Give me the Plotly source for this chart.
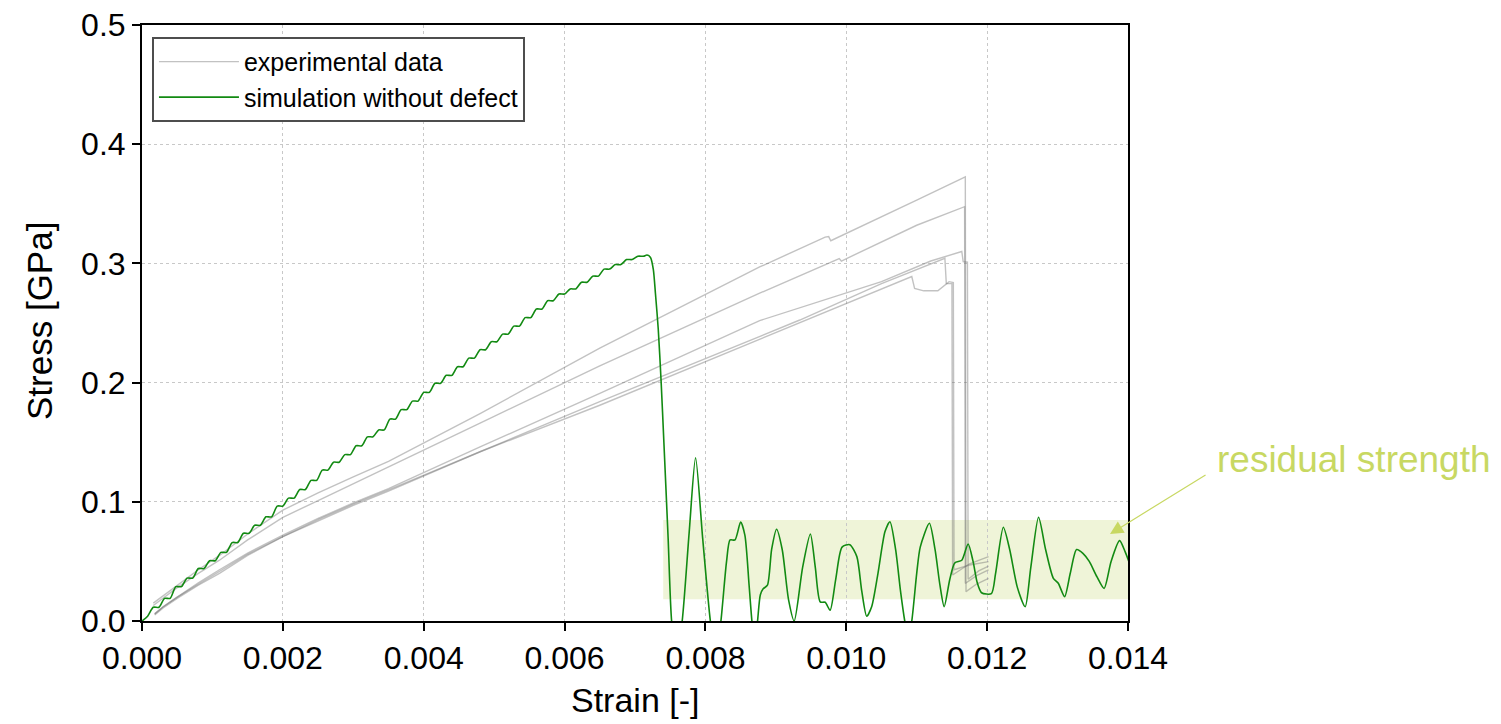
import plotly.graph_objects as go

# ---------------- data ----------------
# simulation without defect: rising part (rippled)
sim_strain_rise = [0, 0.00008, 0.00016, 0.00024, 0.00032, 0.0004, 0.00048, 0.00056, 0.00064, 0.00072,
                   0.0008, 0.00088, 0.00096, 0.00104, 0.00112, 0.0012, 0.00128, 0.00136, 0.00144, 0.00152,
                   0.0016, 0.00168, 0.00176, 0.00184, 0.00192, 0.002, 0.00208, 0.00216, 0.00224, 0.00232,
                   0.0024, 0.00248, 0.00256, 0.00264, 0.00272, 0.0028, 0.00288, 0.00296, 0.00304, 0.00312,
                   0.0032, 0.00328, 0.00336, 0.00344, 0.00352, 0.0036, 0.00368, 0.00376, 0.00384, 0.00392,
                   0.004, 0.00408, 0.00416, 0.00424, 0.00432, 0.0044, 0.00448, 0.00456, 0.00464, 0.00472,
                   0.0048, 0.00488, 0.00496, 0.00504, 0.00512, 0.0052, 0.00528, 0.00536, 0.00544, 0.00552,
                   0.0056, 0.00568, 0.00576, 0.00584, 0.00592, 0.006, 0.00608, 0.00616, 0.00624, 0.00632,
                   0.0064, 0.00648, 0.00656, 0.00664, 0.00672, 0.0068, 0.00688, 0.00696, 0.00704, 0.00712]
sim_stress_rise = [0.0, 0.004, 0.0115, 0.0115, 0.019, 0.019, 0.0288, 0.0288, 0.036, 0.036,
                   0.044, 0.044, 0.0506, 0.0506, 0.0576, 0.0576, 0.0658, 0.0658, 0.0736, 0.0736,
                   0.0803, 0.0803, 0.0874, 0.0874, 0.0964, 0.0964, 0.1031, 0.1031, 0.1103, 0.1103,
                   0.118, 0.118, 0.1266, 0.1266, 0.1332, 0.1332, 0.1396, 0.1396, 0.147, 0.147,
                   0.1545, 0.1545, 0.1603, 0.1603, 0.1694, 0.1694, 0.1773, 0.1773, 0.1845, 0.1845,
                   0.1918, 0.1918, 0.1994, 0.1994, 0.2061, 0.2061, 0.2133, 0.2133, 0.2205, 0.2205,
                   0.2276, 0.2276, 0.2343, 0.2343, 0.2407, 0.2407, 0.2474, 0.2474, 0.2545, 0.2545,
                   0.2617, 0.2617, 0.2687, 0.2687, 0.2743, 0.2743, 0.2786, 0.2786, 0.2842, 0.2842,
                   0.2893, 0.2893, 0.2952, 0.2952, 0.299, 0.299, 0.3032, 0.3032, 0.306, 0.306]

# simulation: failure and residual oscillations
sim_strain_post = [0.00717, 0.00722, 0.00726, 0.00729, 0.00733, 0.00737, 0.00741, 0.00747, 0.00752, 0.00759,
                   0.00767, 0.00777, 0.00786, 0.00796, 0.00807, 0.00815, 0.00822, 0.0083, 0.00835, 0.00842,
                   0.0085, 0.00856, 0.00862, 0.00866, 0.0087, 0.00874, 0.00878, 0.00882, 0.00888, 0.00894,
                   0.00901, 0.00909, 0.00918, 0.00926, 0.00938, 0.00949, 0.00956, 0.00963, 0.0097, 0.00977,
                   0.00985, 0.00994, 0.01005, 0.01015, 0.01022, 0.01029, 0.01036, 0.01045, 0.01055, 0.01062,
                   0.0107, 0.01077, 0.01083, 0.01088, 0.01093, 0.011, 0.01105, 0.01118, 0.01126, 0.01133,
                   0.01139, 0.01147, 0.01154, 0.01164, 0.01173, 0.0118, 0.01186, 0.01192, 0.01206, 0.01212,
                   0.01223, 0.01232, 0.01243, 0.01254, 0.01262, 0.01273, 0.01283, 0.01294, 0.01301, 0.0131,
                   0.01318, 0.01327, 0.01336, 0.01345, 0.01356, 0.01366, 0.01376, 0.01388, 0.01396, 0.01403]
sim_stress_post = [0.307, 0.305, 0.295, 0.275, 0.245, 0.202, 0.15, 0.07, 0.0, -0.03,
                   0.0, 0.075, 0.137, 0.07, 0.0, -0.03, 0.0, 0.05, 0.068, 0.068,
                   0.083, 0.072, 0.03, 0.0, -0.02, 0.0, 0.022, 0.027, 0.03, 0.06,
                   0.077, 0.06, 0.018, 0.0, 0.045, 0.073, 0.045, 0.016, 0.0157, 0.009,
                   0.035, 0.062, 0.064, 0.054, 0.025, 0.004, 0.012, 0.04, 0.075, 0.0833,
                   0.06, 0.025, 0.0, -0.015, 0.0, 0.04, 0.062, 0.082, 0.06, 0.03,
                   0.012, 0.035, 0.0487, 0.051, 0.0646, 0.05, 0.032, 0.0237, 0.023, 0.04,
                   0.0786, 0.06, 0.028, 0.012, 0.045, 0.087, 0.06, 0.0358, 0.0316, 0.0204,
                   0.04, 0.06, 0.0568, 0.05, 0.037, 0.0274, 0.05, 0.0674, 0.058, 0.047]

# experimental specimens
expA_strain = [0.00016, 0.0003, 0.0005, 0.0008, 0.0011, 0.0015, 0.002, 0.0025, 0.003, 0.0035, 0.0048, 0.0065,
               0.00877, 0.0097, 0.00975, 0.00978, 0.011, 0.01169, 0.0117, 0.01185, 0.01202]
expA_stress = [0.015, 0.021, 0.030, 0.043, 0.055, 0.073, 0.093, 0.1075, 0.121, 0.134, 0.174, 0.229,
               0.297, 0.322, 0.3225, 0.319, 0.353, 0.3725, 0.0246, 0.031, 0.0358]
expB_strain = [0.00016, 0.0003, 0.0005, 0.0008, 0.0011, 0.0015, 0.002, 0.0025, 0.003, 0.0035, 0.0048, 0.0065,
               0.00877, 0.0099, 0.00993, 0.011, 0.01168, 0.01169, 0.01185, 0.01202]
expB_stress = [0.013, 0.019, 0.028, 0.040, 0.051, 0.068, 0.087, 0.101, 0.115, 0.1295, 0.166, 0.214,
               0.275, 0.304, 0.302, 0.332, 0.3476, 0.0316, 0.038, 0.0428]
expC_strain = [0.00018, 0.0003, 0.0005, 0.0008, 0.0011, 0.0015, 0.002, 0.0025, 0.003, 0.0035, 0.0048, 0.0065,
               0.00877, 0.0105, 0.0112, 0.01164, 0.01166, 0.01172, 0.01173, 0.01188, 0.01202]
expC_stress = [0.006, 0.012, 0.020, 0.032, 0.043, 0.057, 0.072, 0.086, 0.099, 0.111, 0.146, 0.191,
               0.252, 0.2847, 0.302, 0.310, 0.3014, 0.301, 0.035, 0.042, 0.046]
expD_strain = [0.00018, 0.0003, 0.0005, 0.0008, 0.0011, 0.0015, 0.002, 0.0025, 0.003, 0.0035, 0.0048, 0.0065,
               0.00934, 0.0105, 0.0114, 0.01142, 0.0115, 0.01151, 0.01175, 0.01202]
expD_stress = [0.006, 0.012, 0.020, 0.031, 0.042, 0.056, 0.0707, 0.085, 0.098, 0.110, 0.142, 0.184,
               0.2525, 0.283, 0.3043, 0.283, 0.283, 0.0386, 0.048, 0.054]
expE_strain = [0.00018, 0.0003, 0.0005, 0.0008, 0.0011, 0.0015, 0.002, 0.0025, 0.003, 0.0035, 0.0048, 0.0065,
               0.0105, 0.01093, 0.01097, 0.0111, 0.0113, 0.01146, 0.01152, 0.01153, 0.01175, 0.01202]
expE_stress = [0.005, 0.011, 0.019, 0.030, 0.040, 0.055, 0.0707, 0.084, 0.097, 0.109, 0.142, 0.181,
               0.278, 0.289, 0.279, 0.277, 0.277, 0.2847, 0.284, 0.043, 0.047, 0.0498]

exp_strains = [expA_strain, expB_strain, expC_strain, expD_strain, expE_strain]
exp_stresses = [expA_stress, expB_stress, expC_stress, expD_stress, expE_stress]

x_ticks = [0.000, 0.002, 0.004, 0.006, 0.008, 0.010, 0.012, 0.014]
x_ticktext = ["0.000", "0.002", "0.004", "0.006", "0.008", "0.010", "0.012", "0.014"]
y_ticks = [0.0, 0.1, 0.2, 0.3, 0.4, 0.5]
y_ticktext = ["0.0", "0.1", "0.2", "0.3", "0.4", "0.5"]

residual_box = {"x0": 0.0074, "x1": 0.014, "y0": 0.0182, "y1": 0.0847}
arrow_tip = (0.013745, 0.073)

# ---------------- figure ----------------
FONT = "Liberation Sans, Arial, sans-serif"
GRAY = "rgba(110,110,110,0.42)"
GREEN = "#128a12"
LIGHT = "#c8d862"

fig = go.Figure()

for i, (sx, sy) in enumerate(zip(exp_strains, exp_stresses)):
    fig.add_trace(go.Scatter(
        x=sx, y=sy, mode="lines",
        line=dict(color=GRAY, width=1.4),
        name="experimental data", legendgroup="exp",
        showlegend=(i == 0), hoverinfo="skip"))

fig.add_trace(go.Scatter(
    x=sim_strain_rise + sim_strain_post,
    y=sim_stress_rise + sim_stress_post,
    mode="lines",
    line=dict(color=GREEN, width=1.6, shape="spline", smoothing=0.7),
    name="simulation without defect"))

fig.add_shape(type="rect", xref="x", yref="y",
              x0=residual_box["x0"], x1=residual_box["x1"],
              y0=residual_box["y0"], y1=residual_box["y1"],
              fillcolor="rgba(190,210,90,0.24)", line=dict(width=0), layer="below")

fig.add_annotation(x=arrow_tip[0], y=arrow_tip[1], xref="x", yref="y",
                   ax=97, ay=-60, text="", showarrow=True,
                   arrowhead=2, arrowsize=2.2, arrowwidth=1.2, arrowcolor=LIGHT)
fig.add_annotation(x=(1354 - 142) / 986, y=(621 - 459) / 596, xref="paper", yref="paper",
                   xanchor="center", yanchor="middle",
                   text="residual strength", showarrow=False,
                   font=dict(family=FONT, size=37, color=LIGHT))

# axis titles placed as annotations (paper coordinates)
fig.add_annotation(x=(635 - 142) / 986, y=(621 - 700) / 596, xref="paper", yref="paper",
                   xanchor="center", yanchor="middle", text="Strain [-]", showarrow=False,
                   font=dict(family=FONT, size=34, color="black"))
fig.add_annotation(x=(40 - 142) / 986, y=(621 - 321) / 596, xref="paper", yref="paper",
                   xanchor="center", yanchor="middle", text="Stress [GPa]", showarrow=False,
                   textangle=-90, font=dict(family=FONT, size=35, color="black"))

axis_common = dict(
    showgrid=True, gridcolor="#c8c8c8", griddash="dot", gridwidth=1,
    showline=True, linecolor="black", linewidth=2, mirror=True,
    ticks="outside", ticklen=8, tickwidth=2, tickcolor="black",
    tickfont=dict(family=FONT, size=32, color="black"),
    zeroline=False, automargin=False,
)

fig.update_layout(
    width=1501, height=724, autosize=False,
    margin=dict(l=142, r=373, t=25, b=103),
    paper_bgcolor="white", plot_bgcolor="white",
    font=dict(family=FONT, color="black"),
    xaxis=dict(range=[0, 0.014], tickvals=x_ticks, ticktext=x_ticktext, **axis_common),
    yaxis=dict(range=[0, 0.5], tickvals=y_ticks, ticktext=y_ticktext, **axis_common),
    legend=dict(x=0.0101, y=0.98, xanchor="left", yanchor="top",
                bgcolor="white", bordercolor="#4d4d4d", borderwidth=2,
                font=dict(family=FONT, size=25, color="black"),
                itemwidth=80, tracegroupgap=0),
    showlegend=True,
)

fig.write_html("out.html")
